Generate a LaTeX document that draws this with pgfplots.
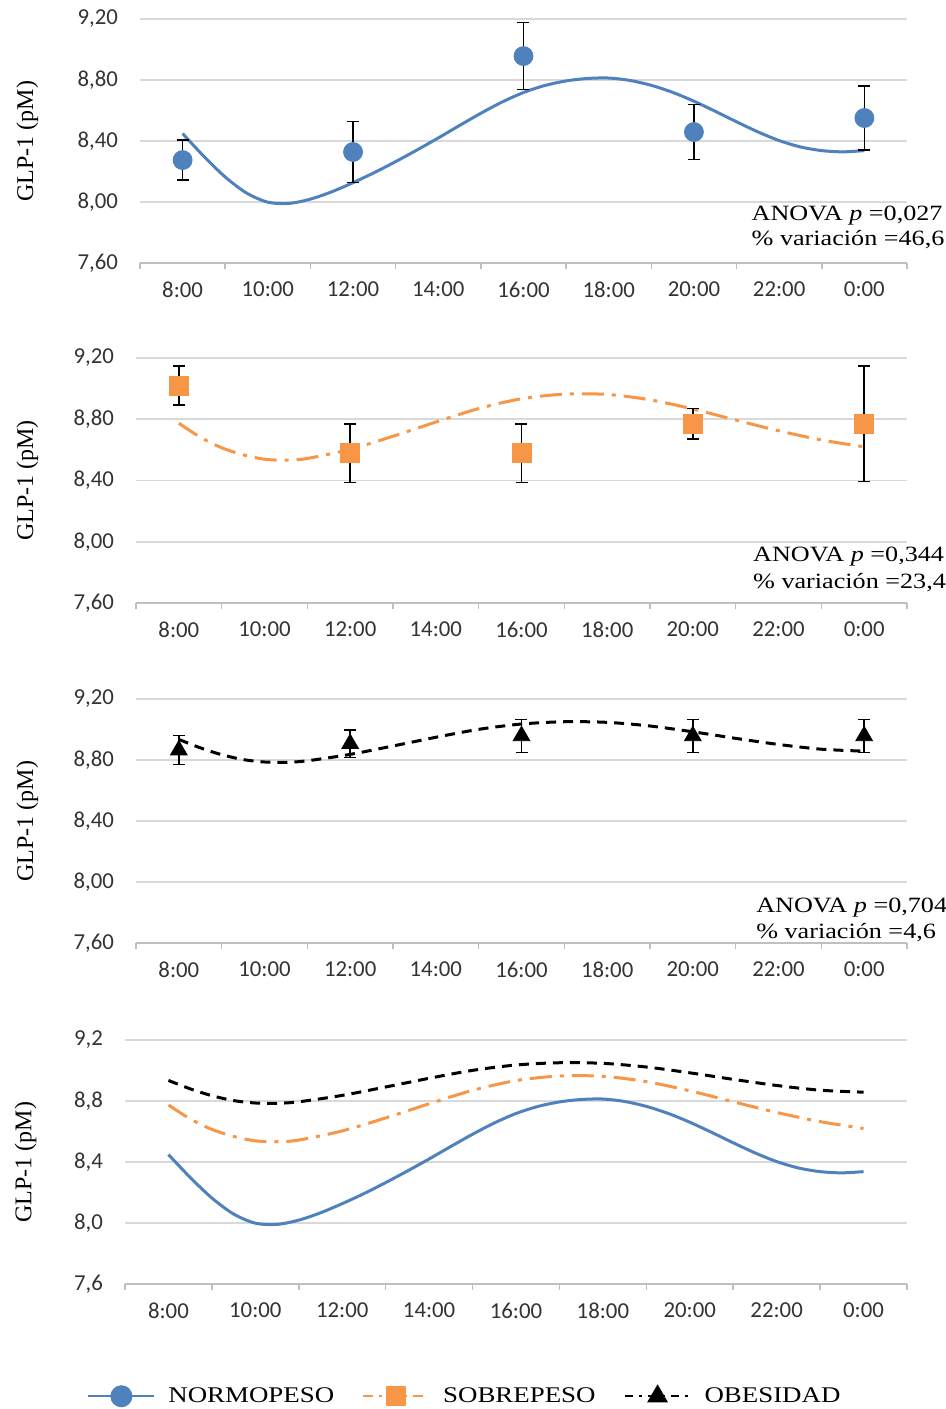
\documentclass[border=0pt]{standalone}
\usepackage{fontspec}
\setmainfont{Liberation Serif}
\newfontfamily\widerm{Liberation Serif}[FakeStretch=1.2]
\newfontfamily\ticksf{Carlito}
\usepackage{graphicx}
\usepackage{pgfplots}
\pgfplotsset{compat=1.18}
\usepackage{pgfplotstable}

\definecolor{nblue}{HTML}{4F81BD}
\definecolor{sorange}{HTML}{F79646}
\definecolor{gridgray}{HTML}{D9D9D9}
\definecolor{axgray}{HTML}{BFBFBF}

% measured means with error (pM)
\pgfplotstableread{
x y e
0 8.275 0.13
2 8.328 0.20
4 8.957 0.22
6 8.459 0.18
8 8.551 0.21
}\normopts
\pgfplotstableread{
x y e
0 9.019 0.127
2 8.578 0.19
4 8.578 0.19
6 8.770 0.10
8 8.770 0.377
}\sobrepts
\pgfplotstableread{
x y e
0 8.865 0.095
2 8.907 0.09
4 8.958 0.108
6 8.958 0.108
8 8.958 0.108
}\obespts

% fitted curves
\pgfplotstableread{
x y
0 8.449
0.25 8.299
0.5 8.164
0.75 8.059
1 7.999
1.25 7.991
1.5 8.019
1.75 8.067
2 8.127
2.25 8.193
2.5 8.265
2.75 8.341
3 8.420
3.25 8.502
3.5 8.582
3.75 8.656
4 8.718
4.25 8.764
4.5 8.794
4.75 8.810
5 8.813
5.25 8.797
5.5 8.765
5.75 8.719
6 8.661
6.25 8.595
6.5 8.526
6.75 8.460
7 8.403
7.25 8.361
7.5 8.337
7.75 8.329
8 8.337
}\normocurve
\pgfplotstableread{
x y
0 8.774
0.25 8.683
0.5 8.614
0.75 8.568
1 8.539
1.25 8.533
1.5 8.544
2 8.604
2.5 8.689
3 8.782
3.5 8.870
4 8.934
4.5 8.964
5 8.962
5.5 8.927
6 8.867
6.5 8.795
7 8.725
7.5 8.665
8 8.620
}\sobrecurve
\pgfplotstableread{
x y
0 8.935
0.25 8.880
0.5 8.835
0.75 8.803
1 8.787
1.25 8.785
1.5 8.795
2 8.837
2.5 8.892
3 8.949
3.5 9.001
4 9.036
4.5 9.051
5 9.047
5.5 9.023
6 8.985
6.5 8.942
7 8.902
7.5 8.871
8 8.858
}\obescurve

\tikzset{anova/.style={anchor=base west, inner sep=0pt, font=\widerm\fontsize{10.9}{12}\selectfont}}

\pgfplotsset{
  panel/.style={
    scale only axis,
    clip=false,
    xmin=-0.5, xmax=8.5, ymin=7.6, ymax=9.2,
    ytick={7.6,8.0,8.4,8.8,9.2},
    xtick={0,...,8},
    xticklabels={8:00,10:00,12:00,14:00,16:00,18:00,20:00,22:00,0:00},
    minor xtick={-0.5,0.5,1.5,2.5,3.5,4.5,5.5,6.5,7.5,8.5},
    major tick length=0pt,
    minor tick length=3.2pt,
    tick align=outside,
    axis lines*=left,
    y axis line style={draw=none},
    x axis line style={axgray, line width=0.8pt},
    minor tick style={axgray, line width=0.8pt},
    ymajorgrids,
    grid style={gridgray, line width=0.8pt},
    tick label style={font=\ticksf\fontsize{11.4}{13}\selectfont, text=black!80},
    yticklabel style={xshift=-7.5pt},
    xticklabel style={yshift=-6pt},
    ylabel={GLP-1 (pM)},
    ylabel style={font=\fontsize{12}{14}\selectfont, anchor=center},
  },
  ebars/.style={
    error bars/.cd, y dir=both, y explicit,
    error bar style={black, line width=0.8pt, solid},
    error mark options={black, rotate=90, mark size=3pt, line width=0.8pt, solid},
  },
}

\begin{document}
\begin{tikzpicture}
\path[use as bounding box] (0,0) rectangle (473pt,-704.5pt);

% ---------- Panel 1: NORMOPESO ----------
\begin{axis}[panel, at={(70pt,-131.5pt)}, anchor=south west,
  width=383.5pt, height=122pt,
  yticklabels={{7,60},{8,00},{8,40},{8,80},{9,20}},
  ylabel style={at={(axis description cs:-0.147,0.5)}}]
\addplot[nblue, line width=1.5pt, smooth, no marks] table[x=x,y=y]{\normocurve};
\addplot[only marks, mark=*, mark size=4.75pt, draw=nblue, fill=nblue,
  mark options={draw=nblue, fill=nblue}, ebars] table[x=x,y=y,y error=e]{\normopts};
\node[anova] at (rel axis cs:0.797,0.176) {ANOVA \textit{p} =0,027};
\node[anova] at (rel axis cs:0.797,0.070) {\% variación =46,6};
\end{axis}

% ---------- Panel 2: SOBREPESO ----------
\begin{axis}[panel, at={(68pt,-301.5pt)}, anchor=south west,
  width=385.5pt, height=122.5pt,
  yticklabels={{7,60},{8,00},{8,40},{8,80},{9,20}},
  ylabel style={at={(axis description cs:-0.141,0.5)}}]
\addplot[sorange, line width=1.5pt, smooth, no marks,
  dash pattern=on 11pt off 4pt on 2pt off 4pt] table[x=x,y=y]{\sobrecurve};
\addplot[only marks, mark=square*, mark size=4.75pt,
  mark options={draw=sorange, fill=sorange, solid}, ebars] table[x=x,y=y,y error=e]{\sobrepts};
\node[anova] at (rel axis cs:0.800,0.171) {ANOVA \textit{p} =0,344};
\node[anova] at (rel axis cs:0.800,0.060) {\% variación =23,4};
\end{axis}

% ---------- Panel 3: OBESIDAD ----------
\begin{axis}[panel, at={(68pt,-471.5pt)}, anchor=south west,
  width=385.5pt, height=122pt,
  yticklabels={{7,60},{8,00},{8,40},{8,80},{9,20}},
  ylabel style={at={(axis description cs:-0.141,0.5)}}]
\addplot[black, line width=1.5pt, smooth, no marks,
  dash pattern=on 5pt off 3.5pt] table[x=x,y=y]{\obescurve};
\addplot[only marks, mark=triangle*, mark size=4.8pt,
  mark options={draw=black, fill=black, solid}, ebars] table[x=x,y=y,y error=e]{\obespts};
\node[anova] at (rel axis cs:0.804,0.125) {ANOVA \textit{p} =0,704};
\node[anova] at (rel axis cs:0.804,0.020) {\% variación =4,6};
\end{axis}

% ---------- Panel 4: all three ----------
\begin{axis}[panel, at={(62.5pt,-642pt)}, anchor=south west,
  width=391pt, height=122pt,
  yticklabels={{7,6},{8,0},{8,4},{8,8},{9,2}},
  ylabel style={at={(axis description cs:-0.127,0.5)}},
  legend columns=3,
  legend cell align=left,
  legend image code/.code={\draw[mark repeat=2,mark phase=2,#1] plot coordinates {(0pt,0pt) (16.5pt,0pt) (33pt,0pt)};},
  legend style={draw=none, fill=none, at={(0.436,-0.46)}, anchor=center,
    font=\widerm\fontsize{11.2}{13}\selectfont,
    /tikz/every odd column/.append style={column sep=4.5pt},
    /tikz/every even column/.append style={column sep=12pt}}]
\addplot[forget plot, black, line width=1.5pt, smooth, no marks,
  dash pattern=on 5pt off 3.5pt] table[x=x,y=y]{\obescurve};
\addplot[forget plot, sorange, line width=1.5pt, smooth, no marks,
  dash pattern=on 11pt off 4pt on 2pt off 4pt] table[x=x,y=y]{\sobrecurve};
\addplot[forget plot, nblue, line width=1.5pt, smooth, no marks] table[x=x,y=y]{\normocurve};
\addlegendimage{nblue, line width=1pt, mark=*, mark size=5pt, mark options={solid, draw=nblue, fill=nblue}}
\addlegendentry{NORMOPESO}
\addlegendimage{sorange, line width=1pt, dash pattern=on 5pt off 3pt on 1.5pt off 3pt, mark=square*, mark size=4.5pt, mark options={solid, draw=sorange, fill=sorange}}
\addlegendentry{SOBREPESO}
\addlegendimage{black, line width=1pt, dash pattern=on 4pt off 3pt on 1.5pt off 3pt, mark=triangle*, mark size=5pt, mark options={solid, fill=black}}
\addlegendentry{OBESIDAD}
\end{axis}
\end{tikzpicture}
\end{document}
